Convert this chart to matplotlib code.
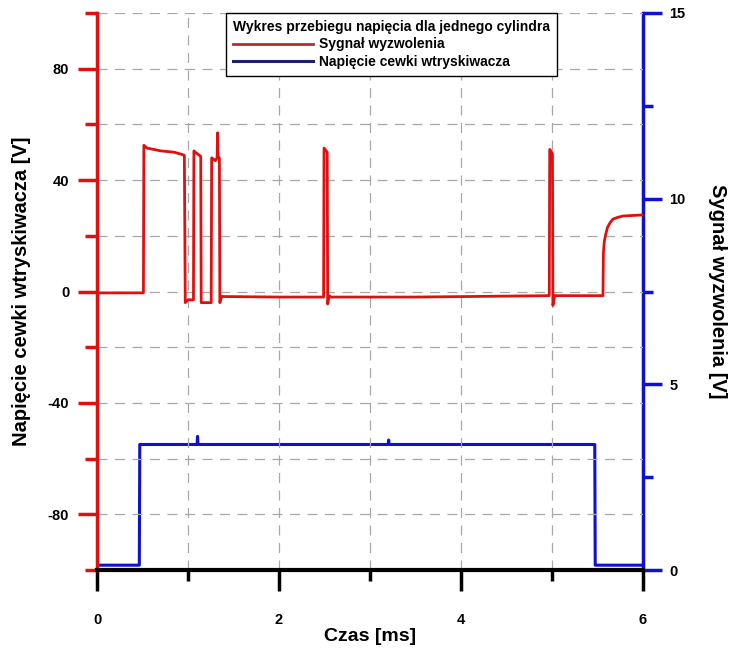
import matplotlib
matplotlib.use("Agg")
import matplotlib.pyplot as plt
from matplotlib.ticker import MultipleLocator

plt.rcParams['font.family'] = ['Liberation Sans', 'DejaVu Sans']
plt.rcParams['font.weight'] = 'bold'
plt.rcParams['axes.unicode_minus'] = False

# trigger signal, read on the left (red) axis [V]
t_trig = [0.0, 0.51, 0.515, 0.55, 0.7, 0.85, 0.955, 0.96, 0.97, 1.0, 1.06,
          1.065, 1.08, 1.14, 1.145, 1.2, 1.255, 1.26, 1.3, 1.32, 1.325, 1.33, 1.345,
          1.35, 1.37, 2.0, 2.49, 2.495, 2.53, 2.535, 2.55, 2.57, 3.5, 4.97, 4.975,
          5.005, 5.01, 5.03, 5.56, 5.565, 5.575, 5.59, 5.61, 5.64, 5.67, 5.72, 5.78,
          5.89, 6.0]
v_trig = [-0.5, -0.5, 52.5, 51.5, 50.5, 50.0, 49.0, 48.5, -4.0, -3.0, -3.0,
          50.5, 50.0, 48.5, -4.0, -4.0, -4.0, 48.0, 47.0, 48.0, 57.0, 48.5, 48.0,
          -4.0, -1.8, -2.0, -2.0, 51.5, 50.0, -4.5, -1.5, -2.0, -2.0, -1.5, 51.0,
          49.5, -5.0, -1.5, -1.5, 14.0, 18.0, 20.5, 23.0, 24.8, 26.0, 26.6, 27.1,
          27.3, 27.5]

# injector coil voltage, read on the right (blue) axis [V]
t_coil = [0.0, 0.465, 0.47, 1.1, 1.105, 1.11, 3.2, 3.205, 3.21, 5.47, 5.475, 6.0]
v_coil = [0.13, 0.13, 3.38, 3.38, 3.6, 3.38, 3.38, 3.5, 3.38, 3.38, 0.13, 0.13]

red = '#e01010'
blue = '#1010d0'

fig = plt.figure(figsize=(7.32, 6.5), dpi=100)
ax = fig.add_axes([97 / 732, 80 / 650, 546 / 732, 557 / 650])
ax2 = ax.twinx()

l1, = ax.plot(t_trig, v_trig, color=red, lw=2.0, label='Sygnał wyzwolenia')
l2, = ax2.plot(t_coil, v_coil, color=blue, lw=2.2, label='Napięcie cewki wtryskiwacza')

ax.set_xlim(0, 6)
ax.set_ylim(-100, 100)
ax2.set_ylim(0, 15)

ax.xaxis.set_major_locator(MultipleLocator(2))
ax.xaxis.set_minor_locator(MultipleLocator(1))
ax.yaxis.set_minor_locator(MultipleLocator(20))
ax.set_yticks([-80, -40, 0, 40, 80])
ax2.yaxis.set_major_locator(MultipleLocator(5))
ax2.yaxis.set_minor_locator(MultipleLocator(2.5))

# dashed grid on every 1 ms and every 20 V
for x in [1, 2, 3, 4, 5]:
    ax.axvline(x, color='#a8a8a8', lw=0.9, ls=(0, (8, 6)), zorder=0)
for y in range(-80, 101, 20):
    ax.axhline(y, color='#a8a8a8', lw=0.9, ls=(0, (8, 6)), zorder=0)

for s in ['top', 'right']:
    ax.spines[s].set_visible(False)
ax.spines['left'].set_color(red)
ax.spines['left'].set_linewidth(2.5)
ax.spines['bottom'].set_color('black')
ax.spines['bottom'].set_linewidth(3)
for s in ['top', 'left', 'bottom']:
    ax2.spines[s].set_visible(False)
ax2.spines['right'].set_color(blue)
ax2.spines['right'].set_linewidth(2.5)

ax.tick_params(axis='y', which='major', length=14, width=2.5, color=red,
               labelsize=10.5, pad=6)
ax.tick_params(axis='y', which='minor', length=8.5, width=2.5, color=red)
ax.tick_params(axis='x', which='major', length=15, width=2.5, color='black',
               labelsize=10.5, pad=16)
ax.tick_params(axis='x', which='minor', length=8, width=2.5, color='black')
ax2.tick_params(axis='y', which='major', length=14, width=2.5, color=blue,
                labelsize=10.5, pad=5)
ax2.tick_params(axis='y', which='minor', length=7, width=2.5, color=blue)

ax.set_xlabel('Czas [ms]', fontsize=14, fontweight='bold', labelpad=1)
ax.set_ylabel('Napięcie cewki wtryskiwacza [V]', fontsize=14.5, fontweight='bold', labelpad=12)
ax2.set_ylabel('Sygnał wyzwolenia [V]', fontsize=14.5, fontweight='bold',
               rotation=270, labelpad=30)

leg = ax.legend([l1, l2], ['Sygnał wyzwolenia', 'Napięcie cewki wtryskiwacza'],
                title='Wykres przebiegu napięcia dla jednego cylindra',
                loc='upper left', bbox_to_anchor=(0.236, 1.0), borderaxespad=0,
                prop={'size': 10, 'weight': 'bold'},
                title_fontproperties={'size': 10, 'weight': 'bold'},
                handlelength=5.8, handletextpad=0.4, labelspacing=0.25,
                borderpad=0.5, frameon=True, fancybox=False, framealpha=1,
                alignment='left')
leg.get_frame().set_edgecolor('black')
leg.get_frame().set_linewidth(1)
leg.get_lines()[0].set_color('#b03030')
leg.get_lines()[1].set_color('#202070')
leg.set_zorder(10)
ax.set_zorder(ax2.get_zorder() + 1)
ax.patch.set_visible(False)

fig.savefig('out.png', dpi=100)
